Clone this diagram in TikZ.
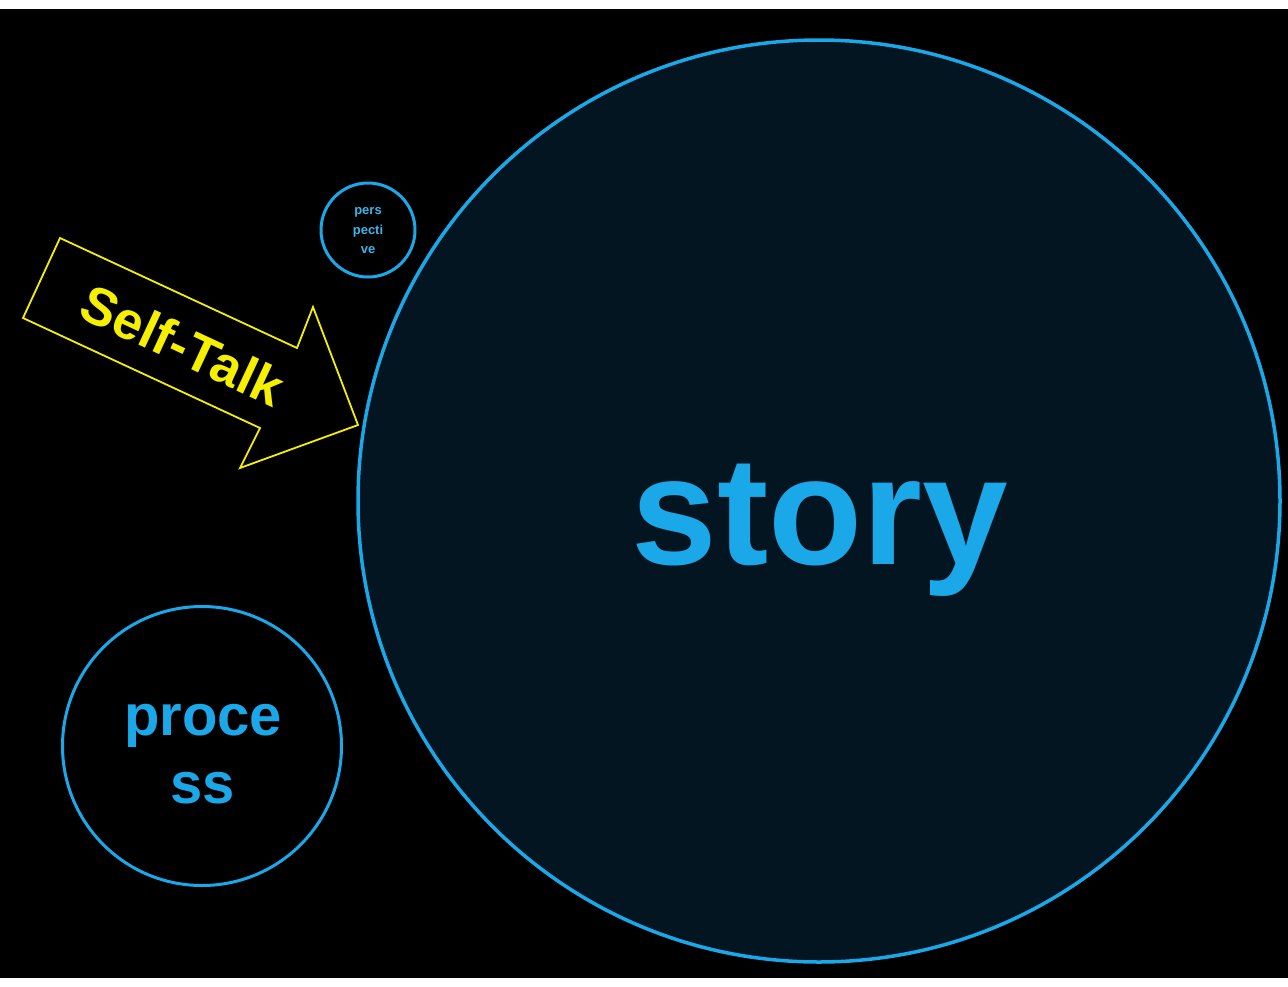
\documentclass[tikz,border=0pt]{standalone}
\usepackage{fontspec}
\setmainfont{Liberation Sans}
\definecolor{skyb}{RGB}{26,168,232}
\definecolor{navy}{RGB}{2,21,32}
\definecolor{yel}{RGB}{245,240,0}
\begin{document}
\begin{tikzpicture}[x=1pt,y=-1pt,
  ring/.style={circle,draw=skyb,line width=3.5pt,inner sep=0pt,text=skyb,font=\bfseries,align=center},
  outline/.style={draw=yel,line width=1.8pt,line join=miter}]
\useasboundingbox (0,0) rectangle (1288,986);
\fill[white] (0,0) rectangle (1288,986);
\fill[black] (0,9) rectangle (1288,978);
% big circle
\node[ring,fill=navy,minimum size=922pt] (story) at (819,501) {};
\node[text=skyb,font=\bfseries\fontsize{154}{154}\selectfont,anchor=base] (storyt) at (820,564) {story};
% perspective
\node[ring,line width=3pt,minimum size=94pt] (persp) at (368,230) {};
\node[text=skyb!85!white,font=\bfseries\fontsize{13}{19.5}\selectfont,align=center] (perspt) at (368,231) {pers\\pecti\\ve};
% process
\node[ring,line width=3pt,minimum size=279pt] (proc) at (202,746) {};
\node[text=skyb,font=\bfseries\fontsize{58}{68}\selectfont,align=center,anchor=base] (proct1) at (203,735) {proce};
\node[text=skyb,font=\bfseries\fontsize{58}{68}\selectfont,anchor=base] (proct2) at (203,803) {ss};
% arrow
\draw[outline] (60,238) coordinate (a1) -- (297,348) coordinate (a2) -- (313,307) coordinate (a3)
  -- (358,425) coordinate (a4) -- (240,468) coordinate (a5) -- (260,428) coordinate (a6)
  -- (23,318) coordinate (a7) -- cycle;
\node[text=yel,font=\bfseries\fontsize{53}{53}\selectfont,anchor=base,rotate=-25] (selft) at (175,362) {Self-Talk};
\end{tikzpicture}
\end{document}
